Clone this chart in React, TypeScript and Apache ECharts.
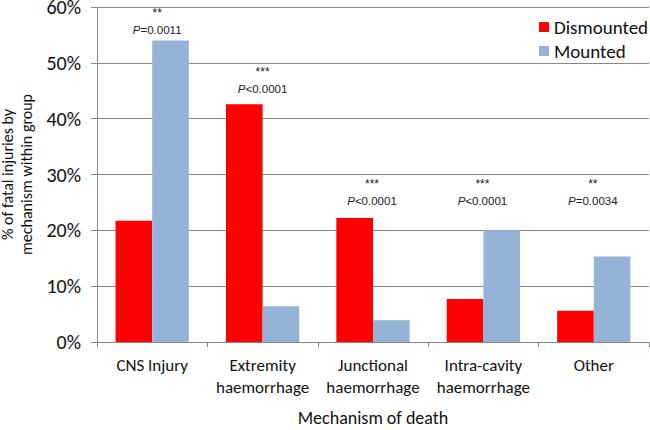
import React, { useEffect, useRef } from 'react';
import * as echarts from 'echarts';

const categories = ['CNS Injury', 'Extremity\nhaemorrhage', 'Junctional\nhaemorrhage', 'Intra-cavity\nhaemorrhage', 'Other'];
const dismounted = [21.7, 42.6, 22.2, 7.7, 5.6];
const mounted = [54.0, 6.4, 3.9, 20.0, 15.3];
const annotStars = ['**', '***', '***', '***', '**'];
const annotRel = ['=0.0011', '<0.0001', '<0.0001', '<0.0001', '=0.0034'];
const annotLevel = [55.8, 45.4, 25.3, 25.3, 25.3];
const annotShift = [5, 0, -1, -1, -1];

const FONT = 'Carlito, Lato, "Liberation Sans", sans-serif';
const ARIAL = '"Liberation Sans", Arial, sans-serif';
const GRID = '#868686';
const TXT = '#111';

export default function App() {
  const ref = useRef<HTMLDivElement>(null);
  useEffect(() => {
    if (!ref.current) return;
    const chart = echarts.init(ref.current, null, { renderer: 'svg' });
    const option: any = {
      animation: false,
      backgroundColor: '#fff',
      grid: { left: 97, right: 1, top: 7, bottom: 88, containLabel: false, outerBoundsMode: 'none' },
      legend: {
        orient: 'vertical',
        left: 534,
        top: 10,
        itemWidth: 10,
        itemHeight: 10,
        itemGap: 0,
        icon: 'rect',
        textStyle: { fontFamily: FONT, fontSize: 19, color: TXT, lineHeight: 24 },
        data: ['Dismounted', 'Mounted'],
      },
      xAxis: {
        type: 'category',
        data: categories,
        name: 'Mechanism of death',
        nameLocation: 'middle',
        nameGap: 67,
        nameTextStyle: { fontFamily: FONT, fontSize: 18, color: TXT, lineHeight: 18 },
        axisLine: { show: true, lineStyle: { color: GRID, width: 1 } },
        axisTick: { show: true, length: 5, alignWithLabel: false, lineStyle: { color: GRID } },
        axisLabel: {
          interval: 0,
          margin: 12,
          fontFamily: FONT,
          fontSize: 17,
          lineHeight: 22,
          color: TXT,
          verticalAlign: 'top',
        },
      },
      yAxis: {
        type: 'value',
        min: 0,
        max: 60,
        interval: 10,
        name: '% of fatal injuries by\nmechanism within group',
        nameLocation: 'middle',
        nameGap: 55,
        nameTextStyle: { fontFamily: FONT, fontSize: 16, color: TXT, lineHeight: 19 },
        axisLine: { show: true, lineStyle: { color: GRID, width: 1 } },
        axisTick: { show: true, length: 6, lineStyle: { color: GRID } },
        splitLine: { show: true, lineStyle: { color: GRID, width: 1 } },
        axisLabel: {
          formatter: '{value}%',
          margin: 16,
          fontFamily: FONT,
          fontSize: 20,
          lineHeight: 14,
          color: TXT,
        },
      },
      series: [
        {
          name: 'Dismounted',
          type: 'bar',
          data: dismounted,
          barWidth: '33.2%',
          barGap: '0%',
          itemStyle: { color: '#FF0000' },
        },
        {
          name: 'Mounted',
          type: 'bar',
          data: mounted,
          barWidth: '33.2%',
          barGap: '0%',
          itemStyle: { color: '#95B3D7' },
        },
      ],
    };
    chart.setOption(option);
    const graphics: any[] = [];
    categories.forEach((_, i) => {
      const pt = chart.convertToPixel({ gridIndex: 0 }, [i, annotLevel[i]]) as number[];
      const x = pt[0] + annotShift[i];
      const y = pt[1];
      graphics.push({
        type: 'text',
        x,
        y: y - 17,
        style: {
          text: annotStars[i],
          fontFamily: ARIAL,
          fontSize: 12,
          fill: '#222',
          align: 'center',
          verticalAlign: 'middle',
        },
      });
      graphics.push({
        type: 'text',
        x,
        y,
        style: {
          text: '{i|P}{n|' + annotRel[i] + '}',
          align: 'center',
          verticalAlign: 'middle',
          rich: {
            i: { fontFamily: ARIAL, fontSize: 11.5, fontStyle: 'italic', fill: '#222' },
            n: { fontFamily: ARIAL, fontSize: 11.5, fill: '#222' },
          },
        },
      });
    });
    chart.setOption({ graphic: graphics });
    return () => chart.dispose();
  }, []);
  return (
    <div
      ref={ref}
      style={{ position: 'fixed', left: 0, top: 0, width: 650, height: 430, background: '#fff' }}
    />
  );
}
